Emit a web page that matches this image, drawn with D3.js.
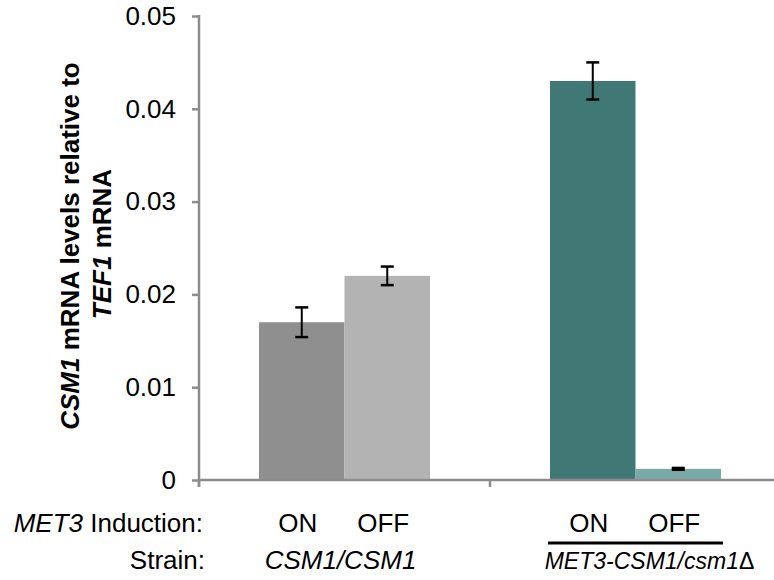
<!DOCTYPE html>
<html>
<head>
<meta charset="utf-8">
<script src="https://cdn.jsdelivr.net/npm/d3@7"></script>
<style>
  body { margin: 0; background: #fff; }
  text { font-family: "Liberation Sans", Arial, sans-serif; fill: #000; }
</style>
</head>
<body>
<script>
// chart size
var w = 774, h = 580;

// data
var strains = ["CSM1/CSM1", "MET3-CSM1/csm1\u0394"];
var induction = ["ON", "OFF"];
var means = [0.017, 0.022, 0.043, 0.0012];
var errors = [0.0016, 0.001, 0.002, 0.0001];
var barColors = ["#8f8f8f", "#b3b3b3", "#407876", "#79aaa7"];
var yTicks = [0, 0.01, 0.02, 0.03, 0.04, 0.05];

// one row per bar
var bars = [];
strains.forEach(function(s, i){
    induction.forEach(function(k, j){
        var n = i * 2 + j;
        bars.push({strain: s, ind: k, value: means[n], err: errors[n], color: barColors[n]});
    });
});

var svg = d3.select("body").append("svg")
    .attr("width", w)
    .attr("height", h);

var y = d3.scaleLinear()
    .domain([0, 0.05])
    .range([480, 16]);

// outer band = strain group, inner band = ON/OFF
var x0 = d3.scaleBand()
    .domain(strains)
    .range([199, 781]);

var x1 = d3.scaleBand()
    .domain(induction)
    .range([60, 231]);

var axisColor = "#8c8c8c";
var fs = "26px";

// bars
svg.selectAll(".bar")
    .data(bars)
    .enter()
    .append("rect")
    .attr("class", "bar")
    .attr("x", function(d){ return x0(d.strain) + x1(d.ind); })
    .attr("y", function(d){ return y(d.value); })
    .attr("width", x1.bandwidth())
    .attr("height", function(d){ return y(0) - y(d.value) + 1; })
    .style("fill", function(d){ return d.color; });

// y axis
var yAxis = d3.axisLeft(y)
    .tickValues(yTicks)
    .tickFormat(function(d){ return d === 0 ? "0" : d3.format(".2f")(d); })
    .tickSize(7)
    .tickPadding(16);

var yg = svg.append("g")
    .attr("transform", "translate(199,0)")
    .call(yAxis);
yg.select(".domain").remove();
yg.selectAll(".tick line").attr("stroke", axisColor).attr("stroke-width", 2.5);
yg.selectAll(".tick text")
    .style("font-size", fs)
    .style("font-family", "'Liberation Sans', Arial, sans-serif")
    .attr("fill", "#000");
yg.append("line")
    .attr("x1", 0).attr("x2", 0)
    .attr("y1", y(0.05) - 1).attr("y2", y(0) + 7)
    .attr("stroke", axisColor)
    .attr("stroke-width", 2.5);

// x axis line + group separators
svg.append("line")
    .attr("x1", 199).attr("x2", w)
    .attr("y1", y(0)).attr("y2", y(0))
    .attr("stroke", axisColor)
    .attr("stroke-width", 2.5);

svg.selectAll(".sep")
    .data(strains)
    .enter()
    .append("line")
    .attr("class", "sep")
    .attr("x1", function(d){ return x0(d); })
    .attr("x2", function(d){ return x0(d); })
    .attr("y1", y(0)).attr("y2", y(0) + 7)
    .attr("stroke", axisColor)
    .attr("stroke-width", 2.5);

// error bars
var errG = svg.selectAll(".err")
    .data(bars)
    .enter()
    .append("g")
    .attr("class", "err")
    .attr("transform", function(d){
        return "translate(" + (x0(d.strain) + x1(d.ind) + x1.bandwidth() / 2) + ",0)";
    });
errG.append("line")
    .attr("y1", function(d){ return y(d.value + d.err); })
    .attr("y2", function(d){ return y(d.value - d.err); })
    .attr("stroke", "#000").attr("stroke-width", 2);
errG.append("line")
    .attr("x1", -6.5).attr("x2", 6.5)
    .attr("y1", function(d){ return y(d.value + d.err); })
    .attr("y2", function(d){ return y(d.value + d.err); })
    .attr("stroke", "#000").attr("stroke-width", 2.5);
errG.append("line")
    .attr("x1", -6.5).attr("x2", 6.5)
    .attr("y1", function(d){ return y(d.value - d.err); })
    .attr("y2", function(d){ return y(d.value - d.err); })
    .attr("stroke", "#000").attr("stroke-width", 2.5);

// y axis title, two lines, rotated
var yTitle = svg.append("text")
    .attr("transform", "translate(79,246) rotate(-90)")
    .attr("text-anchor", "middle")
    .style("font-size", fs)
    .style("font-weight", "bold");
yTitle.append("tspan").style("font-style", "italic").text("CSM1");
yTitle.append("tspan").text(" mRNA levels relative to");
var line2 = svg.append("text")
    .attr("transform", "translate(111,244) rotate(-90)")
    .attr("text-anchor", "middle")
    .style("font-size", fs)
    .style("font-weight", "bold");
line2.append("tspan").style("font-style", "italic").text("TEF1");
line2.append("tspan").text(" mRNA");

// bottom row: induction
var row1 = 532, row2 = 569;
var ind = svg.append("text")
    .attr("x", 203).attr("y", row1)
    .attr("text-anchor", "end")
    .style("font-size", fs);
ind.append("tspan").style("font-style", "italic").text("MET3");
ind.append("tspan").text(" Induction:");

svg.selectAll(".indLabel")
    .data(bars)
    .enter()
    .append("text")
    .attr("class", "indLabel")
    .attr("x", function(d){ return x0(d.strain) + x1(d.ind) + x1.bandwidth() / 2 - 4; })
    .attr("y", row1)
    .attr("text-anchor", "middle")
    .style("font-size", fs)
    .text(function(d){ return d.ind; });

// underline below the second group
svg.append("line")
    .attr("x1", x0(strains[1]) + x1("ON") - 2)
    .attr("x2", x0(strains[1]) + x1("OFF") + x1.bandwidth() + 2)
    .attr("y1", 543).attr("y2", 543)
    .attr("stroke", "#000")
    .attr("stroke-width", 3);

// bottom row: strain
svg.append("text")
    .attr("x", 205).attr("y", row2)
    .attr("text-anchor", "end")
    .style("font-size", fs)
    .text("Strain:");

// italic gene names, the delta sign stays upright
// (second label is a little smaller in the original)
var labelSize = ["26px", "23px"];
var sl = svg.selectAll(".strainLabel")
    .data(strains)
    .enter()
    .append("text")
    .attr("class", "strainLabel")
    .attr("x", function(d, i){ return x0(d) + x0.bandwidth() / 2 + (i ? 14 : -4); })
    .attr("y", row2)
    .attr("text-anchor", "middle")
    .style("font-size", function(d, i){ return labelSize[i]; });
sl.append("tspan")
    .style("font-style", "italic")
    .text(function(d){ return d.replace("\u0394", ""); });
sl.append("tspan")
    .text(function(d){ return d.indexOf("\u0394") >= 0 ? "\u0394" : ""; });
</script>
</body>
</html>
